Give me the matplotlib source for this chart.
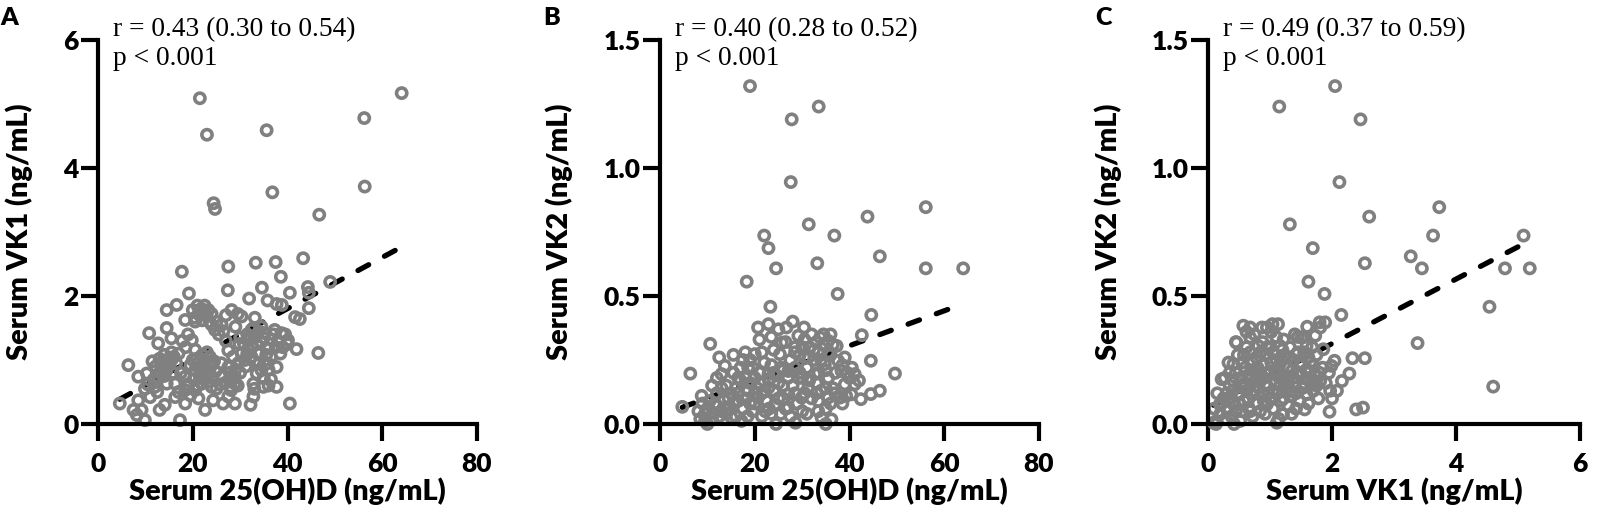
import numpy as np
import matplotlib
matplotlib.use("Agg")
import matplotlib.pyplot as plt

# panel A: serum 25(OH)D vs serum VK1 (x, y)
pts_a = [
    (21.5, 5.09), (23.0, 4.52), (35.6, 4.59), (64.1, 5.17), (56.2, 4.78), (56.3, 3.71),
    (36.8, 3.62), (24.4, 3.45), (24.7, 3.36), (46.7, 3.27), (43.3, 2.59), (49.0, 2.22),
    (44.3, 2.14), (44.5, 2.05), (44.5, 1.81), (41.6, 1.67), (42.6, 1.64), (41.9, 1.17),
    (46.5, 1.11), (40.5, 2.05), (37.5, 2.53), (33.3, 2.52), (38.6, 2.30), (27.5, 2.46),
    (27.4, 2.09), (34.6, 2.13), (17.7, 2.38), (19.2, 2.04), (31.9, 1.96), (35.8, 1.93),
    (37.7, 1.875), (38.8, 1.86), (40.5, 0.32),
    (14.5, 1.78), (16.6, 1.86), (22.2, 1.75), (21.2, 1.72), (22.8, 1.70), (20.5, 1.66),
    (28.2, 1.78), (30.3, 1.68), (33.1, 1.66), (10.8, 1.42), (14.5, 1.50), (18.4, 1.625),
    (20.5, 1.60), (24.7, 1.47), (26.1, 1.55), (29.0, 1.52), (32.4, 1.47), (34.5, 1.52),
    (38.7, 1.42), (40.1, 1.31), (37.3, 1.47), (31.7, 1.31), (12.7, 1.26), (15.5, 1.34),
    (19.8, 1.31), (20.5, 1.16), (17.0, 1.10), (6.4, 0.92), (10.3, 0.79), (8.5, 0.74),
    (13.4, 0.95), (15.5, 1.0), (14.5, 0.84), (18.4, 0.74), (20.5, 0.84), (22.6, 0.95),
    (24.0, 0.74), (21.9, 0.63), (23.6, 1.05), (27.5, 0.89), (28.9, 0.74), (28.9, 0.63),
    (28.1, 0.53), (27.5, 0.43), (30.3, 1.10), (29.6, 0.95), (32.4, 1.05), (34.5, 0.84),
    (35.8, 0.95), (37.7, 0.89), (37.7, 0.58), (34.9, 0.58), (32.8, 0.63), (33.5, 0.79),
    (32.8, 0.43), (32.2, 0.30), (28.9, 0.32), (26.4, 0.32), (24.3, 0.37), (22.6, 0.22),
    (21.2, 0.40), (18.4, 0.32), (16.3, 0.42), (14.1, 0.30), (13.0, 0.22), (11.0, 0.42),
    (9.9, 0.55), (12.0, 0.58), (9.2, 0.22), (8.2, 0.14), (9.9, 0.06), (17.3, 0.06),
    (4.6, 0.32), (7.5, 0.22), (8.5, 0.37), (16.3, 0.63), (18.4, 0.53), (20.5, 0.53),
    (24.0, 0.58), (26.1, 0.74), (14.5, 0.63), (12.7, 0.74),
    (13.0, 1.02), (14.0, 1.08), (15.0, 0.92), (16.0, 1.05), (14.2, 0.98), (13.5, 0.88),
    (15.8, 0.80), (12.2, 0.90), (11.5, 0.98), (21.0, 0.95), (22.0, 0.88), (23.0, 0.80),
    (21.5, 0.72), (22.5, 1.0), (20.8, 1.02), (23.8, 0.90), (24.5, 0.98), (19.5, 0.92),
    (21.8, 0.78), (23.2, 0.66), (20.2, 0.70), (21.8, 1.80), (23.3, 1.78), (22.0, 1.62),
    (23.5, 1.60), (21.0, 1.85), (30.8, 1.25), (31.5, 1.40), (32.5, 1.20), (33.0, 1.35),
    (33.8, 1.10), (34.5, 1.28), (35.2, 1.42), (36.0, 1.18), (31.0, 1.00), (33.0, 0.98),
    (34.0, 1.45), (35.5, 1.08), (32.0, 1.15), (36.5, 1.32), (30.0, 1.35), (32.8, 1.50),
    (27.8, 0.80), (28.5, 0.70), (29.5, 0.60), (28.0, 0.58), (29.0, 0.85), (27.0, 0.65),
    (30.0, 0.80), (38.0, 1.30), (39.0, 1.20), (39.5, 1.40), (37.5, 1.20), (38.5, 1.10),
    (40.0, 1.25), (25.0, 1.60), (25.5, 1.40), (26.5, 1.45), (24.0, 1.55), (27.0, 1.30),
    (18.5, 1.20), (19.0, 1.40), (17.8, 1.30), (17.0, 0.50), (19.0, 0.62), (17.5, 0.80),
    (19.5, 0.45), (10.5, 0.62), (11.8, 0.70), (12.5, 0.50), (25.0, 0.55), (25.8, 0.62),
    (36.5, 0.70), (36.0, 0.85), (27.0, 1.70), (29.5, 1.72),
    (21.0, 0.60), (22.5, 0.70), (23.5, 0.95), (20.0, 1.00), (22.0, 1.08), (24.8, 0.82),
    (21.3, 0.88), (23.0, 1.12), (31.5, 1.10), (33.5, 1.25), (35.0, 1.35), (32.0, 1.35),
    (34.0, 0.95), (36.5, 1.05), (31.2, 0.90), (37.0, 1.40), (14.0, 0.75), (16.5, 0.95),
    (13.0, 0.80), (15.5, 1.12), (22.5, 1.85), (24.0, 1.72), (20.0, 1.78), (28.5, 1.05),
    (27.5, 1.15), (26.0, 0.95), (29.8, 1.25), (36.0, 0.60), (35.0, 0.72), (33.0, 0.55),
]

# panel B: serum 25(OH)D vs serum VK2
pts_b = [
    (19.0, 1.32), (33.5, 1.24), (27.8, 1.19), (27.6, 0.945), (56.1, 0.847), (43.8, 0.81),
    (31.4, 0.78), (22.0, 0.736), (36.8, 0.736), (22.9, 0.687), (46.4, 0.655), (33.2, 0.628),
    (24.5, 0.608), (56.1, 0.608), (64.0, 0.608), (18.3, 0.556), (37.5, 0.508), (23.3, 0.458),
    (44.6, 0.426), (42.6, 0.347), (44.5, 0.247), (49.6, 0.197), (46.4, 0.13), (44.5, 0.117),
    (42.4, 0.097), (39.3, 0.11), (10.6, 0.313), (6.4, 0.197), (4.7, 0.067), (28.6, 0.005),
    (20.7, 0.377), (22.9, 0.39), (26.7, 0.377), (30.4, 0.377), (29.2, 0.345), (33.8, 0.338),
    (35.5, 0.325), (37.3, 0.305), (25.7, 0.318), (20.0, 0.273), (21.5, 0.28), (25.3, 0.273),
    (28.5, 0.30), (31.3, 0.26), (39.0, 0.26), (13.7, 0.227), (13.0, 0.195), (18.6, 0.22),
    (16.5, 0.18), (20.0, 0.18), (22.9, 0.195), (27.1, 0.207), (29.2, 0.18), (32.7, 0.195),
    (35.5, 0.18), (38.3, 0.207), (39.0, 0.155), (41.1, 0.155), (40.4, 0.116), (38.0, 0.103),
    (35.5, 0.103), (33.4, 0.09), (33.4, 0.05), (36.2, 0.018), (34.1, 0.025), (8.8, 0.11),
    (8.1, 0.05), (9.5, 0.012), (11.2, 0.044), (13.0, 0.05), (15.1, 0.025), (17.2, 0.012),
    (16.5, 0.09), (18.6, 0.13), (20.7, 0.103), (22.9, 0.142), (22.2, 0.05), (24.3, 0.077),
    (27.1, 0.116), (27.1, 0.064), (29.9, 0.103), (31.3, 0.142), (34.8, 0.234), (37.6, 0.247),
    (41.1, 0.195),
    (10.0, 0.06), (10.5, 0.09), (11.5, 0.08), (12.0, 0.12), (12.5, 0.03), (13.5, 0.10),
    (14.0, 0.15), (14.5, 0.06), (15.0, 0.12), (15.5, 0.20), (16.0, 0.14), (17.0, 0.17),
    (17.5, 0.06), (18.0, 0.10), (18.5, 0.03), (19.0, 0.16), (19.5, 0.22), (20.0, 0.08),
    (20.5, 0.14), (21.0, 0.20), (21.5, 0.12), (22.0, 0.24), (22.5, 0.09), (23.0, 0.17),
    (23.5, 0.23), (24.0, 0.13), (24.5, 0.19), (25.0, 0.10), (25.5, 0.22), (26.0, 0.15),
    (26.5, 0.06), (27.5, 0.25), (28.0, 0.15), (28.5, 0.22), (29.0, 0.08), (29.5, 0.27),
    (30.0, 0.18), (30.5, 0.12), (31.0, 0.22), (31.5, 0.30), (32.0, 0.10), (32.5, 0.25),
    (33.0, 0.16), (33.5, 0.28), (34.0, 0.13), (34.5, 0.31), (35.0, 0.21), (36.0, 0.27),
    (36.5, 0.14), (37.0, 0.20), (14.0, 0.04), (16.0, 0.03), (11.0, 0.15), (9.0, 0.08),
    (12.0, 0.18), (17.5, 0.25), (24.0, 0.29), (26.5, 0.32), (30.0, 0.05), (35.0, 0.06),
    (19.5, 0.05), (21.5, 0.03), (23.5, 0.04), (25.5, 0.04), (27.5, 0.03), (31.0, 0.04),
    (33.0, 0.32), (34.5, 0.35), (32.0, 0.35), (36.0, 0.35), (38.5, 0.23), (40.0, 0.18),
    (21.0, 0.33), (23.5, 0.34), (18.0, 0.28), (15.5, 0.27), (12.5, 0.26), (28.0, 0.40),
    (30.5, 0.33), (25.0, 0.37), (9.5, 0.04), (8.5, 0.02), (10.0, 0.0), (37.0, 0.12),
    (38.5, 0.08), (36.0, 0.08), (39.5, 0.20), (40.5, 0.22), (42.0, 0.17), (26.0, 0.10),
    (28.5, 0.12), (24.5, 0.00), (35.0, 0.0),
    (11.0, 0.02), (12.0, 0.07), (13.0, 0.14), (14.5, 0.10), (15.5, 0.08), (16.5, 0.12),
    (17.0, 0.22), (18.0, 0.18), (19.0, 0.08), (20.0, 0.12), (21.0, 0.16), (22.0, 0.13),
    (23.0, 0.06), (24.0, 0.20), (25.0, 0.16), (26.0, 0.21), (28.5, 0.28), (29.5, 0.20),
    (30.5, 0.26), (31.5, 0.17), (32.5, 0.29), (33.5, 0.20), (34.0, 0.25), (35.5, 0.28),
    (36.5, 0.31), (33.0, 0.12), (30.0, 0.30), (35.0, 0.14), (27.0, 0.18), (19.0, 0.25),
]

# panel C: serum VK1 vs serum VK2
pts_c = [
    (2.05, 1.32), (1.15, 1.24), (2.46, 1.19), (2.12, 0.945), (3.73, 0.847), (2.60, 0.81),
    (1.32, 0.78), (3.63, 0.736), (5.09, 0.736), (1.69, 0.687), (3.27, 0.655), (2.53, 0.628),
    (3.45, 0.608), (4.79, 0.608), (5.19, 0.608), (1.62, 0.556), (1.88, 0.508), (4.54, 0.458),
    (2.15, 0.426), (3.38, 0.316), (4.60, 0.146), (2.53, 0.257), (2.33, 0.257), (2.04, 0.247),
    (1.96, 0.048), (2.39, 0.057), (1.11, 0.005), (2.28, 0.197), (2.16, 0.168),
    (0.68, 0.377), (0.95, 0.377), (1.13, 0.39), (0.68, 0.338), (0.46, 0.318), (0.81, 0.305),
    (1.16, 0.305), (1.51, 0.338), (1.81, 0.377), (1.89, 0.397), (1.73, 0.345), (0.68, 0.28),
    (0.41, 0.234), (0.95, 0.273), (1.24, 0.26), (1.43, 0.273), (1.59, 0.305), (1.86, 0.292),
    (1.99, 0.227), (0.27, 0.18), (0.19, 0.077), (0.14, 0.012), (0.35, 0.103), (0.57, 0.142),
    (0.84, 0.168), (1.11, 0.207), (1.38, 0.18), (1.65, 0.207), (1.81, 0.168), (1.97, 0.13),
    (1.59, 0.116), (1.56, 0.057), (1.21, 0.038), (0.95, 0.077), (0.68, 0.05), (0.52, 0.012),
    (2.08, 0.13), (2.50, 0.064),
    (0.09, 0.005), (0.13, 0.0), (0.42, 0.0), (0.22, 0.175), (0.33, 0.24), (0.45, 0.32),
    (0.57, 0.384), (0.62, 0.36), (0.87, 0.377), (1.04, 0.39), (1.45, 0.34), (1.80, 0.397),
    (0.30, 0.06), (0.35, 0.15), (0.40, 0.08), (0.45, 0.20), (0.50, 0.12), (0.55, 0.05),
    (0.55, 0.24), (0.60, 0.16), (0.65, 0.10), (0.70, 0.21), (0.72, 0.03), (0.75, 0.13),
    (0.78, 0.26), (0.80, 0.08), (0.85, 0.19), (0.88, 0.12), (0.90, 0.23), (0.92, 0.04),
    (0.95, 0.15), (1.00, 0.20), (1.00, 0.10), (1.05, 0.28), (1.05, 0.06), (1.08, 0.16),
    (1.12, 0.12), (1.15, 0.23), (1.18, 0.09), (1.20, 0.18), (1.25, 0.14), (1.28, 0.22),
    (1.30, 0.07), (1.32, 0.30), (1.35, 0.11), (1.38, 0.25), (1.40, 0.16), (1.45, 0.20),
    (1.48, 0.09), (1.50, 0.24), (1.52, 0.14), (1.55, 0.28), (1.60, 0.18), (1.62, 0.08),
    (1.65, 0.24), (1.70, 0.13), (1.72, 0.19), (1.75, 0.27), (1.78, 0.10), (1.85, 0.22),
    (1.90, 0.16), (0.25, 0.10), (0.20, 0.04), (0.10, 0.06), (0.15, 0.12), (0.28, 0.02),
    (0.38, 0.03), (0.62, 0.30), (0.48, 0.27), (0.88, 0.32), (1.10, 0.34), (1.22, 0.33),
    (1.40, 0.35), (1.60, 0.38), (0.60, 0.22), (0.82, 0.14), (1.02, 0.24), (1.14, 0.02),
    (1.35, 0.04), (1.45, 0.28), (1.25, 0.19), (0.70, 0.12), (0.95, 0.30), (1.68, 0.30),
    (1.55, 0.34), (0.75, 0.35), (1.02, 0.36), (0.40, 0.13), (0.52, 0.18), (0.66, 0.06),
    (0.84, 0.05), (0.98, 0.12), (1.16, 0.15), (1.30, 0.17), (1.42, 0.06), (1.58, 0.21),
    (1.75, 0.15), (1.95, 0.20), (2.0, 0.10), (0.90, 0.18), (1.20, 0.25), (0.58, 0.09),
    (1.08, 0.21), (1.34, 0.13), (1.50, 0.19), (0.78, 0.18), (0.45, 0.05),
    (0.35, 0.20), (0.50, 0.08), (0.62, 0.13), (0.70, 0.18), (0.80, 0.22), (0.90, 0.09),
    (0.95, 0.20), (1.05, 0.13), (1.10, 0.25), (1.15, 0.18), (1.22, 0.10), (1.28, 0.16),
    (1.36, 0.21), (1.42, 0.12), (1.48, 0.23), (1.55, 0.16), (1.62, 0.26), (1.68, 0.16),
    (1.80, 0.20), (0.58, 0.27), (0.72, 0.24), (0.85, 0.28), (1.00, 0.30), (1.20, 0.29),
    (1.30, 0.26), (0.40, 0.17), (0.30, 0.12), (0.65, 0.19), (1.70, 0.23), (0.22, 0.08),
]

# regression lines (intercept, slope)
fit_a = (0.203, 0.040)
fit_b = (0.033, 0.00682)
fit_c = (0.062, 0.126)

letters = ["A", "B", "C"]
x_labels = ["Serum 25(OH)D (ng/mL)", "Serum 25(OH)D (ng/mL)", "Serum VK1 (ng/mL)"]
y_labels = ["Serum VK1 (ng/mL)", "Serum VK2 (ng/mL)", "Serum VK2 (ng/mL)"]
r_texts = ["r = 0.43 (0.30 to 0.54)", "r = 0.40 (0.28 to 0.52)", "r = 0.49 (0.37 to 0.59)"]
p_texts = ["p < 0.001", "p < 0.001", "p < 0.001"]
x_ticks = [[0, 20, 40, 60, 80], [0, 20, 40, 60, 80], [0, 2, 4, 6]]
y_ticks = [[0, 2, 4, 6], [0.0, 0.5, 1.0, 1.5], [0.0, 0.5, 1.0, 1.5]]
y_ticklabels = [["0", "2", "4", "6"], ["0.0", "0.5", "1.0", "1.5"], ["0.0", "0.5", "1.0", "1.5"]]

sans = ["Lato", "DejaVu Sans"]
serif = ["Liberation Serif", "DejaVu Serif"]
grey = "#808080"

W, H = 1608, 518
fig = plt.figure(figsize=(W / 100, H / 100), dpi=100)

# axes boxes in pixels: left, width
boxes = [(98, 379), (660, 379), (1208, 372)]
ylab_x = [-0.172, -0.23, -0.231]
letter_x = [0, 543, 1095]

panels = [pts_a, pts_b, pts_c]
fits = [fit_a, fit_b, fit_c]

for i in range(3):
    left, width = boxes[i]
    ax = fig.add_axes([left / W, (H - 424) / H, width / W, 384 / H])
    pts = np.array(panels[i])
    x, y = pts[:, 0], pts[:, 1]

    b0, b1 = fits[i]
    xs = np.array([x.min(), x.max()])
    ax.plot(xs, b0 + b1 * xs, color="black", lw=3.8, dashes=(2.3, 3.4),
            dash_capstyle="round", solid_capstyle="round", zorder=1)
    ax.scatter(x, y, s=54, facecolors="none", edgecolors=grey, linewidths=2.6,
               zorder=2, clip_on=False)

    ax.set_xlim(x_ticks[i][0], x_ticks[i][-1])
    ax.set_ylim(y_ticks[i][0], y_ticks[i][-1])
    ax.set_xticks(x_ticks[i])
    ax.set_yticks(y_ticks[i])
    ax.set_yticklabels(y_ticklabels[i])
    for s in ["top", "right"]:
        ax.spines[s].set_visible(False)
    for s in ["left", "bottom"]:
        ax.spines[s].set_linewidth(3)
        ax.spines[s].set_capstyle("projecting")
    ax.tick_params(axis="both", direction="out", length=12, width=3)
    ax.tick_params(axis="x", pad=8)
    ax.tick_params(axis="y", pad=2)
    for lab in ax.get_xticklabels() + ax.get_yticklabels():
        lab.set_family(sans)
        lab.set_fontweight("heavy")
        lab.set_fontsize(19)

    ax.set_xlabel(x_labels[i], family=sans, fontweight="heavy", fontsize=20.8)
    ax.xaxis.set_label_coords(0.5, -0.14)
    ax.set_ylabel(y_labels[i], family=sans, fontweight="heavy", fontsize=20.8)
    ax.yaxis.set_label_coords(ylab_x[i], 0.5)

    ax.annotate(r_texts[i], xy=(0, 1), xycoords="axes fraction", xytext=(11, 3),
                textcoords="offset points", family=serif, fontsize=19.8, va="baseline")
    ax.annotate(p_texts[i], xy=(0, 1), xycoords="axes fraction", xytext=(11, -18),
                textcoords="offset points", family=serif, fontsize=19.8, va="baseline")

    fig.text(letter_x[i] / W, 1 - 7 / H, letters[i], family=sans, fontweight="heavy",
             fontsize=18, ha="left", va="top")

fig.savefig("out.png", dpi=100)
